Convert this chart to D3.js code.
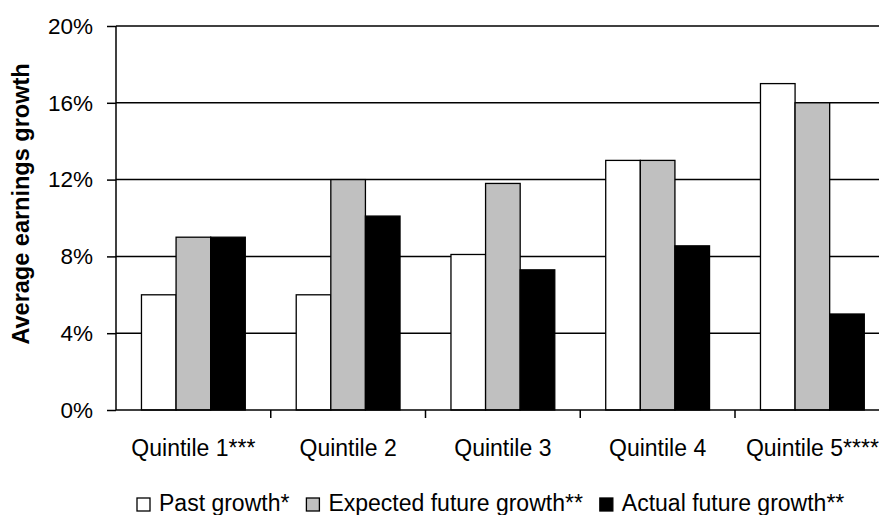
<!DOCTYPE html>
<html>
<head>
<meta charset="utf-8">
<script src="https://cdn.jsdelivr.net/npm/d3@7"></script>
<style>
  html, body { margin: 0; padding: 0; background: #fff; }
  svg { display: block; font-family: "Liberation Sans", Arial, sans-serif; }
</style>
</head>
<body>
<svg id="chart" width="879" height="515"></svg>
<script>
// Quintile groups and the three growth measures (percent)
const categories = ["Quintile 1***", "Quintile 2", "Quintile 3", "Quintile 4", "Quintile 5****"];
const seriesNames = ["Past growth*", "Expected future growth**", "Actual future growth**"];
const pastGrowth = [6.0, 6.0, 8.1, 13.0, 17.0];
const expectedGrowth = [9.0, 12.0, 11.8, 13.0, 16.0];
const actualGrowth = [9.0, 10.1, 7.3, 8.55, 5.0];
const yTicks = [0, 4, 8, 12, 16, 20];
const yLabel = "Average earnings growth";

const seriesValues = [pastGrowth, expectedGrowth, actualGrowth];
const fills = ["#ffffff", "#c0c0c0", "#000000"];

(function drawChart() {
  const svg = d3.select("#chart");
  const W = 879;
  const plotLeft = 116, plotTop = 26, plotBottom = 410;
  const step = 154.75;
  const plotRight = plotLeft + step * categories.length;

  const x = d3.scaleBand().domain(categories).range([plotLeft, plotRight]).paddingInner(0).paddingOuter(0);
  const x1 = d3.scaleBand().domain(seriesNames).range([0, x.bandwidth()]).paddingInner(0).paddingOuter(0.736);
  const y = d3.scaleLinear().domain([0, 20]).range([plotBottom, plotTop]);

  // horizontal gridlines
  svg.append("g")
    .selectAll("line")
    .data(yTicks.filter(d => d > 0))
    .join("line")
    .attr("x1", plotLeft).attr("x2", W)
    .attr("y1", d => y(d)).attr("y2", d => y(d))
    .attr("stroke", "#000").attr("stroke-width", 1.5);

  // bars
  const rows = categories.map((c, i) => ({ cat: c, vals: seriesNames.map((s, j) => ({ s, j, v: seriesValues[j][i] })) }));
  svg.append("g")
    .selectAll("g")
    .data(rows)
    .join("g")
    .attr("transform", d => `translate(${x(d.cat)},0)`)
    .selectAll("rect")
    .data(d => d.vals)
    .join("rect")
    .attr("x", d => x1(d.s))
    .attr("width", x1.bandwidth())
    .attr("y", d => y(d.v))
    .attr("height", d => y(0) - y(d.v))
    .attr("fill", d => fills[d.j])
    .attr("stroke", "#000")
    .attr("stroke-width", 1.3);

  // y axis
  const yAxis = d3.axisLeft(y).tickValues(yTicks).tickFormat(d => d + "%").tickSize(9).tickPadding(14);
  const gy = svg.append("g").attr("transform", `translate(${plotLeft},0)`).call(yAxis);
  gy.select(".domain").remove();
  gy.append("line").attr("x1", 0).attr("x2", 0).attr("y1", plotTop).attr("y2", plotBottom)
    .attr("stroke", "#000").attr("stroke-width", 1.5);
  gy.selectAll(".tick line").attr("stroke", "#000").attr("stroke-width", 1.5);
  gy.selectAll(".tick text").attr("font-size", 22.5).attr("fill", "#000")
    .attr("font-family", "Liberation Sans, Arial, sans-serif");

  // x axis: tick marks at category boundaries, labels centred under each group
  const gx = svg.append("g").attr("transform", `translate(0,${plotBottom})`);
  gx.append("line").attr("x1", plotLeft).attr("x2", W).attr("y1", 0).attr("y2", 0)
    .attr("stroke", "#000").attr("stroke-width", 1.5);
  gx.selectAll("line.bound")
    .data(categories.slice(1))
    .join("line")
    .attr("class", "bound")
    .attr("x1", d => x(d)).attr("x2", d => x(d))
    .attr("y1", 0).attr("y2", 8)
    .attr("stroke", "#000").attr("stroke-width", 1.5);
  gx.selectAll("text")
    .data(categories)
    .join("text")
    .attr("x", d => x(d) + x.bandwidth() / 2)
    .attr("y", 46)
    .attr("text-anchor", "middle")
    .attr("font-size", 23)
    .text(d => d);

  // y axis title
  svg.append("text")
    .attr("transform", `translate(28.5,${(plotTop + plotBottom) / 2 - 14}) rotate(-90)`)
    .attr("text-anchor", "middle")
    .attr("font-size", 23.5)
    .attr("font-weight", "bold")
    .text(yLabel);

  // legend: swatch, label, then the next entry
  const legend = svg.append("g").attr("transform", "translate(137,0)");
  const items = legend.selectAll("g").data(seriesNames).join("g");
  items.append("rect")
    .attr("width", 13).attr("height", 13)
    .attr("y", 498)
    .attr("fill", (d, i) => fills[i])
    .attr("stroke", "#000").attr("stroke-width", 1.3);
  items.append("text")
    .attr("x", 22).attr("y", 511)
    .attr("font-size", 23)
    .text(d => d);
  let cx = 0;
  items.each(function () {
    const g = d3.select(this);
    const w = 22 + g.select("text").node().getComputedTextLength();
    g.attr("transform", `translate(${cx},0)`);
    cx += w + 17;
  });
})();
</script>
</body>
</html>
